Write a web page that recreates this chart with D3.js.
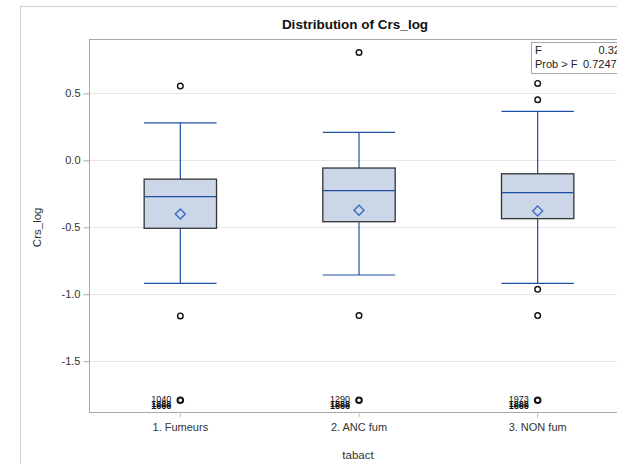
<!DOCTYPE html>
<html><head><meta charset="utf-8">
<script src="https://cdn.jsdelivr.net/npm/d3@7"></script>
<style>body{margin:0;background:#fff}svg{display:block;font-family:"Liberation Sans",Arial,sans-serif}</style>
</head><body>
<svg id="c" width="617" height="464"></svg>
<script>
const categories = ["1. Fumeurs", "2. ANC fum", "3. NON fum"];
const q1 = [-0.507, -0.458, -0.435];
const median = [-0.27, -0.226, -0.241];
const q3 = [-0.14, -0.057, -0.10];
const mean = [-0.40, -0.373, -0.378];
const whiskerLow = [-0.918, -0.856, -0.918];
const whiskerHigh = [0.281, 0.209, 0.366];
const outliers = [[0.555, -1.162, -1.791], [0.806, -1.159, -1.791], [0.575, 0.453, -0.963, -1.159, -1.791]];
const outlierLabels = [["1040", "1888", "1666"], ["1290", "1888", "1666"], ["1973", "1888", "1666"]];
const yTicks = [0.5, 0.0, -0.5, -1.0, -1.5];
const statNames = ["F", "Prob > F"];
const statValues = ["0.32", "0.7247"];

(function () {
const svg = d3.select("#c");
const pLeft = 89, pTop = 39.5, pBottom = 412.5;
const y = d3.scaleLinear().domain([-1.883, 0.903]).range([pBottom, pTop]);
const x = d3.scaleBand().domain(categories).range([91, 627]).padding(0);
const boxW = x.bandwidth() * 0.405;
const capW = boxW / 2;

svg.append("rect").attr("x", 20.5).attr("y", 6.5).attr("width", 700).attr("height", 600)
  .attr("fill", "none").attr("stroke", "#d0d0d0");

svg.append("g").selectAll("line").data(yTicks).join("line")
  .attr("x1", pLeft).attr("x2", 617).attr("y1", d => Math.round(y(d)) + 0.5).attr("y2", d => Math.round(y(d)) + 0.5)
  .attr("stroke", "#e6e6e6");

svg.append("rect").attr("x", pLeft + 0.5).attr("y", pTop).attr("width", 700).attr("height", pBottom - pTop)
  .attr("fill", "none").attr("stroke", "#a8a8a8");

const fmt = d3.format(".1f");
const ya = svg.append("g").attr("transform", `translate(${pLeft + 0.5},0)`)
  .call(d3.axisLeft(y).tickValues(yTicks).tickFormat(d => fmt(d).replace("\u2212", "-")).tickSize(6).tickPadding(3));
ya.select(".domain").remove();
ya.selectAll(".tick line").attr("stroke", "#a8a8a8");
ya.selectAll(".tick text").attr("fill", "#333").style("font-size", "11px").style("font-family", "'Liberation Sans',Arial");

const xa = svg.append("g").attr("transform", `translate(0,${pBottom})`)
  .call(d3.axisBottom(x).tickSize(5).tickPadding(6));
xa.select(".domain").remove();
xa.selectAll(".tick line").attr("stroke", "#c0c0c0");
xa.selectAll(".tick text").attr("fill", "#333").style("font-size", "11px").style("font-family", "'Liberation Sans',Arial");

svg.append("text").attr("x", 355).attr("y", 29).attr("text-anchor", "middle")
  .style("font-size", "13.5px").style("font-weight", "bold").attr("fill", "#111").text("Distribution of Crs_log");
svg.append("text").attr("x", 358).attr("y", 459).attr("text-anchor", "middle")
  .style("font-size", "11.5px").attr("fill", "#333").text("tabact");
svg.append("text").attr("transform", `translate(41,${y(-0.5)}) rotate(-90)`).attr("text-anchor", "middle")
  .style("font-size", "11.5px").attr("fill", "#333").text("Crs_log");

const blue = "#1d4fa5";
const g = svg.append("g");
categories.forEach((c, i) => {
  const cx = x(c) + x.bandwidth() / 2;
  g.append("line").attr("x1", cx).attr("x2", cx).attr("y1", y(q3[i])).attr("y2", y(whiskerHigh[i])).attr("stroke", blue).attr("stroke-width", 1.2);
  g.append("line").attr("x1", cx).attr("x2", cx).attr("y1", y(q1[i])).attr("y2", y(whiskerLow[i])).attr("stroke", blue).attr("stroke-width", 1.2);
  g.append("line").attr("x1", cx - capW).attr("x2", cx + capW).attr("y1", y(whiskerHigh[i])).attr("y2", y(whiskerHigh[i])).attr("stroke", blue).attr("stroke-width", 1.2);
  g.append("line").attr("x1", cx - capW).attr("x2", cx + capW).attr("y1", y(whiskerLow[i])).attr("y2", y(whiskerLow[i])).attr("stroke", blue).attr("stroke-width", 1.2);
  g.append("rect").attr("x", cx - boxW / 2).attr("y", y(q3[i])).attr("width", boxW).attr("height", y(q1[i]) - y(q3[i]))
    .attr("fill", "#cbd6e6").attr("stroke", "#333").attr("stroke-width", 1.3);
  g.append("line").attr("x1", cx - boxW / 2).attr("x2", cx + boxW / 2).attr("y1", y(median[i])).attr("y2", y(median[i])).attr("stroke", blue).attr("stroke-width", 1.2);
  const my = y(mean[i]);
  g.append("path").attr("d", `M${cx},${my - 5}L${cx + 5},${my}L${cx},${my + 5}L${cx - 5},${my}Z`)
    .attr("fill", "none").attr("stroke", "#3d6cc4").attr("stroke-width", 1.4);
  outliers[i].forEach(v => {
    const heavy = v < -1.7;
    g.append("circle").attr("cx", cx).attr("cy", y(v)).attr("r", 2.8)
      .attr("fill", "none").attr("stroke", "#111").attr("stroke-width", heavy ? 2 : 1.4);
  });
  const ly = y(-1.791);
  outlierLabels[i].forEach((t, k) => {
    g.append("text").attr("x", cx - 9).attr("y", k === 0 ? ly + 2 : ly + 7 + (k - 1) * 2).attr("text-anchor", "end")
      .style("font-size", "9px").style("font-weight", k > 0 ? "bold" : "normal").attr("fill", "#111").text(t);
  });
});

const ib = svg.append("g");
ib.append("rect").attr("x", 531.5).attr("y", 42.5).attr("width", 120).attr("height", 31)
  .attr("fill", "#fff").attr("stroke", "#a8a8a8");
statNames.forEach((n, k) => {
  ib.append("text").attr("x", 535).attr("y", 54 + k * 14).style("font-size", "11px").attr("fill", "#222").text(n);
});
ib.append("text").attr("x", 620).attr("y", 54).attr("text-anchor", "end").style("font-size", "11px").attr("fill", "#222").text(statValues[0]);
ib.append("text").attr("x", 583).attr("y", 68).style("font-size", "11px").attr("fill", "#222").text(statValues[1]);
})();
</script>
</body></html>
